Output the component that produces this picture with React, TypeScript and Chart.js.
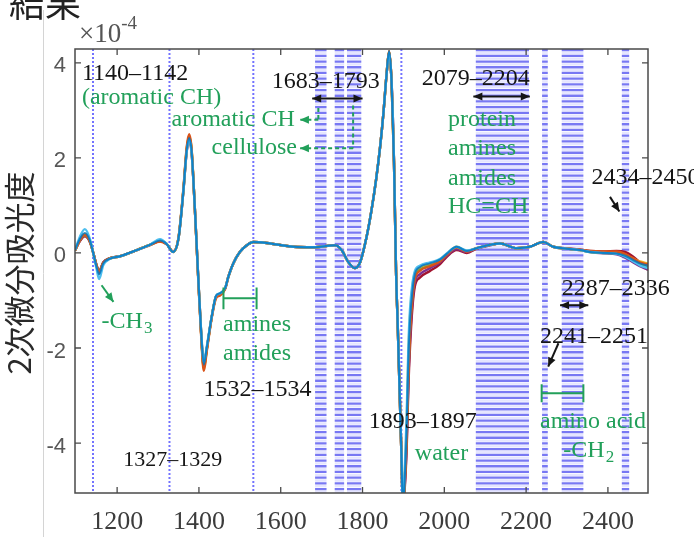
import React, { useEffect, useRef } from 'react';
import { Chart, registerables } from 'chart.js';

Chart.register(...registerables);

// ---- data ----
const wavenumbers = [
  1097, 1109, 1121, 1134, 1142, 1150, 1156, 1166, 1183, 1207,
  1248, 1280, 1305, 1321, 1337, 1350, 1362, 1370, 1376, 1382,
  1390, 1398, 1405, 1412, 1419, 1431, 1442, 1451, 1464, 1472,
  1484, 1500, 1517, 1533, 1566, 1631, 1680, 1733, 1749, 1765,
  1781, 1794, 1810, 1822, 1833, 1843, 1851, 1859, 1865, 1871,
  1877, 1882, 1886, 1891, 1895, 1899, 1903, 1908, 1912, 1916,
  1922, 1928, 1940, 1965, 1989, 2006, 2030, 2055, 2079, 2112,
  2136, 2177, 2209, 2242, 2266, 2299, 2332, 2356, 2389, 2421,
  2442, 2462, 2478, 2498,
];

const absorbanceBlue = [
  0.06, 0.3, 0.42, 0.25, -0.02, -0.3, -0.45, -0.22, -0.12, -0.07,
  0.06, 0.17, 0.26, 0.19, 0.02, 0.3, 1.3, 2.15, 2.42, 2.15,
  0.95, -0.45, -1.6, -2.35, -2.0, -1.35, -0.9, -0.85, -0.74, -0.5,
  -0.22, 0.02, 0.16, 0.23, 0.21, 0.13, 0.12, 0.16, 0.06, -0.19,
  -0.32, -0.2, 0.34, 0.9, 1.53, 2.23, 2.93, 3.78, 4.25, 3.6,
  1.9, -0.4, -1.5, -3.0, -4.2, -5.4, -4.8, -3.7, -2.3, -1.45,
  -0.8, -0.45, -0.3, -0.22, -0.14, -0.02, 0.13, 0.04, 0.1, 0.17,
  0.2, 0.1, 0.13, 0.23, 0.13, 0.09, 0.06, 0.02, 0.0, -0.01,
  -0.06, -0.15, -0.22, -0.27,
];
const absorbanceCyan = [
  0.06, 0.34, 0.5, 0.28, -0.02, -0.35, -0.55, -0.26, -0.12, -0.07,
  0.06, 0.17, 0.29, 0.19, 0.02, 0.3, 1.3, 2.12, 2.38, 2.12,
  0.95, -0.45, -1.58, -2.3, -1.98, -1.35, -0.9, -0.85, -0.74, -0.5,
  -0.22, 0.02, 0.16, 0.23, 0.21, 0.13, 0.12, 0.16, 0.06, -0.19,
  -0.32, -0.2, 0.34, 0.9, 1.53, 2.23, 2.93, 3.78, 4.22, 3.6,
  1.9, -0.4, -1.5, -3.0, -4.2, -5.4, -4.6, -3.4, -2.0, -1.2,
  -0.65, -0.38, -0.27, -0.2, -0.13, -0.01, 0.13, 0.05, 0.1, 0.17,
  0.2, 0.1, 0.13, 0.23, 0.13, 0.09, 0.06, 0.02, 0.0, -0.02,
  -0.08, -0.18, -0.26, -0.32,
];
const absorbanceOrange = [
  0.05, 0.27, 0.38, 0.23, -0.01, -0.28, -0.42, -0.21, -0.11, -0.07,
  0.06, 0.16, 0.24, 0.18, 0.03, 0.32, 1.35, 2.22, 2.5, 2.2,
  0.93, -0.5, -1.68, -2.48, -2.08, -1.38, -0.95, -0.9, -0.76, -0.5,
  -0.22, 0.02, 0.16, 0.23, 0.21, 0.13, 0.12, 0.16, 0.06, -0.19,
  -0.32, -0.2, 0.34, 0.9, 1.53, 2.23, 2.93, 3.78, 4.25, 3.6,
  1.9, -0.4, -1.5, -3.0, -4.2, -5.4, -4.9, -3.9, -2.6, -1.7,
  -0.95, -0.55, -0.38, -0.28, -0.18, -0.04, 0.12, 0.03, 0.1, 0.17,
  0.2, 0.1, 0.13, 0.23, 0.13, 0.09, 0.07, 0.04, 0.03, 0.03,
  -0.02, -0.12, -0.2, -0.24,
];
const absorbanceYellow = [
  0.05, 0.28, 0.4, 0.24, -0.02, -0.29, -0.44, -0.22, -0.12, -0.07,
  0.06, 0.17, 0.25, 0.19, 0.02, 0.31, 1.32, 2.18, 2.46, 2.18,
  0.94, -0.48, -1.64, -2.45, -2.05, -1.37, -0.92, -0.87, -0.75, -0.5,
  -0.22, 0.02, 0.16, 0.23, 0.21, 0.13, 0.12, 0.16, 0.06, -0.19,
  -0.32, -0.2, 0.34, 0.9, 1.53, 2.23, 2.93, 3.78, 4.24, 3.6,
  1.9, -0.4, -1.5, -3.0, -4.2, -5.4, -4.7, -3.6, -2.2, -1.35,
  -0.72, -0.42, -0.3, -0.22, -0.14, -0.02, 0.13, 0.04, 0.1, 0.17,
  0.2, 0.1, 0.13, 0.23, 0.13, 0.09, 0.06, 0.03, 0.01, 0.0,
  -0.04, -0.12, -0.18, -0.22,
];
const absorbancePurple = [
  0.05, 0.26, 0.36, 0.22, -0.01, -0.27, -0.4, -0.2, -0.11, -0.07,
  0.06, 0.17, 0.25, 0.19, 0.02, 0.3, 1.3, 2.14, 2.4, 2.14,
  0.94, -0.47, -1.62, -2.4, -2.03, -1.36, -0.91, -0.86, -0.75, -0.5,
  -0.22, 0.02, 0.16, 0.23, 0.21, 0.13, 0.12, 0.16, 0.06, -0.19,
  -0.32, -0.2, 0.34, 0.9, 1.53, 2.23, 2.93, 3.78, 4.23, 3.6,
  1.9, -0.4, -1.5, -3.0, -4.2, -5.4, -4.95, -4.0, -2.7, -1.85,
  -1.05, -0.62, -0.45, -0.32, -0.2, -0.06, 0.08, 0.02, 0.09, 0.16,
  0.2, 0.1, 0.13, 0.23, 0.13, 0.09, 0.06, 0.02, -0.01, -0.03,
  -0.1, -0.2, -0.28, -0.35,
];
const absorbanceGreen = [
  0.05, 0.27, 0.37, 0.23, -0.01, -0.28, -0.41, -0.21, -0.11, -0.07,
  0.06, 0.17, 0.25, 0.19, 0.02, 0.31, 1.32, 2.17, 2.44, 2.17,
  0.94, -0.47, -1.63, -2.42, -2.04, -1.36, -0.91, -0.86, -0.75, -0.5,
  -0.22, 0.02, 0.16, 0.23, 0.21, 0.13, 0.12, 0.16, 0.06, -0.19,
  -0.32, -0.2, 0.34, 0.9, 1.53, 2.23, 2.93, 3.78, 4.24, 3.6,
  1.9, -0.4, -1.5, -3.0, -4.2, -5.4, -4.85, -3.8, -2.5, -1.6,
  -0.9, -0.5, -0.35, -0.25, -0.16, -0.03, 0.12, 0.04, 0.1, 0.17,
  0.2, 0.1, 0.13, 0.23, 0.13, 0.09, 0.06, 0.02, 0.0, -0.01,
  -0.04, -0.14, -0.23, -0.3,
];
const absorbanceRed = [
  0.05, 0.25, 0.35, 0.22, -0.01, -0.26, -0.38, -0.2, -0.11, -0.07,
  0.06, 0.17, 0.25, 0.19, 0.02, 0.3, 1.3, 2.12, 2.36, 2.12,
  0.94, -0.46, -1.61, -2.38, -2.02, -1.36, -0.91, -0.86, -0.75, -0.5,
  -0.22, 0.02, 0.16, 0.23, 0.21, 0.13, 0.12, 0.16, 0.06, -0.19,
  -0.32, -0.2, 0.34, 0.9, 1.53, 2.23, 2.93, 3.78, 4.22, 3.6,
  1.9, -0.4, -1.5, -3.0, -4.2, -5.4, -5.0, -4.1, -2.85, -2.0,
  -1.15, -0.7, -0.52, -0.38, -0.24, -0.08, 0.06, 0.0, 0.09, 0.17,
  0.2, 0.1, 0.13, 0.23, 0.13, 0.1, 0.07, 0.04, 0.03, 0.04,
  0.02, -0.08, -0.2, -0.36,
];

const xTickValues = [1200, 1400, 1600, 1800, 2000, 2200, 2400];
const yTickValues = [-4, -2, 0, 2, 4];
const dottedWavenumbers = [1141, 1328, 1533, 1895];
const bandStarts = [1684, 1732, 1762, 2077, 2239, 2287, 2434];
const bandEnds = [1712, 1755, 1797, 2207, 2253, 2340, 2452];

// ---- annotation layout (data coordinates) ----
const GREEN = '#22a05a';
const BLACK = '#151515';
const SERIF = '"Liberation Serif", "Times New Roman", serif';
const SANS = '"Liberation Sans", Arial, sans-serif';
const CJK = '"Noto Sans CJK JP", "Noto Sans CJK SC", sans-serif';

type Label = { text: string; x: number; y: number; green?: boolean; size?: number; sub?: string };
const labels: Label[] = [
  { text: '1140–1142', x: 1114, y: 3.76 },
  { text: '(aromatic CH)', x: 1114, y: 3.27, green: true },
  { text: 'aromatic CH', x: 1333, y: 2.8, green: true },
  { text: 'cellulose', x: 1431, y: 2.21, green: true },
  { text: '1683–1793', x: 1578, y: 3.6 },
  { text: '2079–2204', x: 1945, y: 3.66 },
  { text: 'protein', x: 2009, y: 2.8, green: true },
  { text: 'amines', x: 2009, y: 2.2, green: true },
  { text: 'amides', x: 2009, y: 1.57, green: true },
  { text: 'HC=CH', x: 2009, y: 0.97, green: true },
  { text: '2434–2450', x: 2360, y: 1.58 },
  { text: '-CH', sub: '3', x: 1162, y: -1.45, green: true },
  { text: 'amines', x: 1459, y: -1.5, green: true },
  { text: 'amides', x: 1459, y: -2.11, green: true },
  { text: '1532–1534', x: 1411, y: -2.88 },
  { text: '1327–1329', x: 1215, y: -4.36, size: 22 },
  { text: '1893–1897', x: 1815, y: -3.55 },
  { text: 'water', x: 1928, y: -4.22, green: true },
  { text: '2287–2336', x: 2287, y: -0.75 },
  { text: '2241–2251', x: 2234, y: -1.76 },
  { text: 'amino acid', x: 2234, y: -3.55, green: true },
  { text: '-CH', sub: '2', x: 2291, y: -4.15, green: true },
];

type Arrow = { x1: number; y1: number; x2: number; y2: number; green?: boolean; both?: boolean; dashed?: boolean; noHead?: boolean };
const arrows: Arrow[] = [
  { x1: 1677, y1: 3.25, x2: 1800, y2: 3.25, both: true },
  { x1: 2071, y1: 3.29, x2: 2209, y2: 3.29, both: true },
  { x1: 2283, y1: -1.1, x2: 2352, y2: -1.1, both: true },
  { x1: 2405, y1: 1.18, x2: 2428, y2: 0.87 },
  { x1: 2279, y1: -1.9, x2: 2254, y2: -2.39 },
  { x1: 1162, y1: -0.68, x2: 1191, y2: -1.03, green: true },
  { x1: 1692, y1: 3.05, x2: 1692, y2: 2.8, green: true, dashed: true, noHead: true },
  { x1: 1692, y1: 2.8, x2: 1647, y2: 2.8, green: true, dashed: true },
  { x1: 1777, y1: 3.1, x2: 1777, y2: 2.2, green: true, dashed: true, noHead: true },
  { x1: 1777, y1: 2.2, x2: 1647, y2: 2.2, green: true, dashed: true },
];

type Bracket = { x1: number; x2: number; y: number; cap: number };
const brackets: Bracket[] = [
  { x1: 1460, x2: 1541, y: -0.955, cap: 0.23 },
  { x1: 2238, x2: 2340, y: -2.95, cap: 0.19 },
];

function head(ctx: CanvasRenderingContext2D, fx: number, fy: number, tx: number, ty: number, len = 9, half = 4) {
  const a = Math.atan2(ty - fy, tx - fx);
  ctx.beginPath();
  ctx.moveTo(tx, ty);
  ctx.lineTo(tx - len * Math.cos(a) + half * Math.sin(a), ty - len * Math.sin(a) - half * Math.cos(a));
  ctx.lineTo(tx - len * Math.cos(a) - half * Math.sin(a), ty - len * Math.sin(a) + half * Math.cos(a));
  ctx.closePath();
  ctx.fill();
}

const decorPlugin = {
  id: 'decor',
  beforeDatasetsDraw(chart: any) {
    const { ctx, chartArea: a, scales } = chart;
    const xs = scales.x;
    ctx.save();
    ctx.beginPath();
    ctx.rect(a.left, a.top, a.right - a.left, a.bottom - a.top);
    ctx.clip();
    bandStarts.forEach((s, i) => {
      const x1 = xs.getPixelForValue(s);
      const x2 = xs.getPixelForValue(bandEnds[i]);
      const cx = (x1 + x2) / 2;
      ctx.lineWidth = x2 - x1;
      ctx.lineCap = 'butt';
      ctx.setLineDash([2.3, 3.4]);
      ctx.lineDashOffset = 2.85;
      ctx.strokeStyle = 'rgba(170,170,255,0.3)';
      ctx.beginPath();
      ctx.moveTo(cx, a.top);
      ctx.lineTo(cx, a.bottom);
      ctx.stroke();
      ctx.lineDashOffset = 0;
      ctx.strokeStyle = 'rgba(82,82,240,0.78)';
      ctx.beginPath();
      ctx.moveTo(cx, a.top);
      ctx.lineTo(cx, a.bottom);
      ctx.stroke();
    });
    ctx.setLineDash([2, 2]);
    ctx.lineDashOffset = 0;
    ctx.lineWidth = 2;
    ctx.strokeStyle = 'rgba(90,90,255,0.85)';
    dottedWavenumbers.forEach((w) => {
      const x = xs.getPixelForValue(w);
      ctx.beginPath();
      ctx.moveTo(x, a.top);
      ctx.lineTo(x, a.bottom);
      ctx.stroke();
    });
    ctx.restore();
  },
  afterDatasetsDraw(chart: any) {
    const { ctx, chartArea: a, scales } = chart;
    const xs = scales.x;
    const ys = scales.y;
    ctx.save();
    // box
    ctx.setLineDash([]);
    ctx.strokeStyle = '#4a4a4a';
    ctx.lineWidth = 1.5;
    ctx.strokeRect(a.left, a.top, a.right - a.left, a.bottom - a.top);
    // inward ticks
    ctx.lineWidth = 1.3;
    xTickValues.forEach((v) => {
      const x = xs.getPixelForValue(v);
      ctx.beginPath();
      ctx.moveTo(x, a.bottom);
      ctx.lineTo(x, a.bottom - 6);
      ctx.moveTo(x, a.top);
      ctx.lineTo(x, a.top + 6);
      ctx.stroke();
    });
    yTickValues.forEach((v) => {
      const y = ys.getPixelForValue(v);
      ctx.beginPath();
      ctx.moveTo(a.left, y);
      ctx.lineTo(a.left + 6, y);
      ctx.moveTo(a.right, y);
      ctx.lineTo(a.right - 6, y);
      ctx.stroke();
    });
    // tick labels
    ctx.fillStyle = '#3c3c3c';
    ctx.font = `26px ${SERIF}`;
    ctx.textAlign = 'center';
    ctx.textBaseline = 'middle';
    xTickValues.forEach((v) => ctx.fillText(String(v), xs.getPixelForValue(v), 522));
    ctx.fillStyle = '#575757';
    ctx.font = `22px ${SANS}`;
    ctx.textAlign = 'right';
    yTickValues.forEach((v) => ctx.fillText(String(v), 66, ys.getPixelForValue(v) + 3.5));
    // exponent
    ctx.textAlign = 'left';
    ctx.textBaseline = 'alphabetic';
    ctx.fillStyle = '#555';
    ctx.font = `27px ${SERIF}`;
    ctx.fillText('×10', 79, 42);
    const w10 = ctx.measureText('×10').width;
    ctx.font = `19px ${SERIF}`;
    ctx.fillText('-4', 79 + w10, 29);
    // y label
    ctx.save();
    ctx.translate(19, 273);
    ctx.rotate(-Math.PI / 2);
    ctx.textAlign = 'center';
    ctx.textBaseline = 'middle';
    ctx.fillStyle = '#2a2a2a';
    ctx.font = `31px ${CJK}`;
    ctx.fillText('2次微分吸光度', 0, 0);
    ctx.restore();
    // title (clipped at top)
    ctx.fillStyle = '#222';
    ctx.font = `36px ${CJK}`;
    ctx.textAlign = 'left';
    ctx.textBaseline = 'alphabetic';
    ctx.fillText('結果', 9, 17);
    // thin separator line
    ctx.strokeStyle = '#d4d4d4';
    ctx.lineWidth = 1;
    ctx.beginPath();
    ctx.moveTo(43.5, 10);
    ctx.lineTo(43.5, 537);
    ctx.stroke();

    // brackets
    ctx.strokeStyle = GREEN;
    ctx.lineWidth = 2;
    brackets.forEach((b) => {
      const x1 = xs.getPixelForValue(b.x1);
      const x2 = xs.getPixelForValue(b.x2);
      const y = ys.getPixelForValue(b.y);
      const yt = ys.getPixelForValue(b.y + b.cap);
      const yb = ys.getPixelForValue(b.y - b.cap);
      ctx.beginPath();
      ctx.moveTo(x1, y);
      ctx.lineTo(x2, y);
      ctx.moveTo(x1, yt);
      ctx.lineTo(x1, yb);
      ctx.moveTo(x2, yt);
      ctx.lineTo(x2, yb);
      ctx.stroke();
    });
    // arrows
    arrows.forEach((r) => {
      const col = r.green ? GREEN : BLACK;
      ctx.strokeStyle = col;
      ctx.fillStyle = col;
      ctx.lineWidth = 2;
      ctx.setLineDash(r.dashed ? [4, 3] : []);
      const x1 = xs.getPixelForValue(r.x1);
      const y1 = ys.getPixelForValue(r.y1);
      const x2 = xs.getPixelForValue(r.x2);
      const y2 = ys.getPixelForValue(r.y2);
      ctx.beginPath();
      ctx.moveTo(x1, y1);
      ctx.lineTo(x2, y2);
      ctx.stroke();
      ctx.setLineDash([]);
      if (!r.noHead) head(ctx, x1, y1, x2, y2);
      if (r.both) head(ctx, x2, y2, x1, y1);
    });
    // labels
    ctx.textAlign = 'left';
    ctx.textBaseline = 'middle';
    labels.forEach((l) => {
      const size = l.size ?? 24;
      const x = xs.getPixelForValue(l.x);
      const y = ys.getPixelForValue(l.y);
      ctx.fillStyle = l.green ? GREEN : BLACK;
      ctx.font = `${size}px ${SERIF}`;
      ctx.fillText(l.text, x, y);
      if (l.sub) {
        const w = ctx.measureText(l.text).width;
        ctx.font = `${Math.round(size * 0.72)}px ${SERIF}`;
        ctx.fillText(l.sub, x + w + 1, y + 7);
      }
    });
    ctx.restore();
  },
};

// Chart.js paints dataset 0 last (on top): blue first, red at the bottom.
const seriesList = [
  { values: absorbanceBlue, color: 'rgba(0,114,189,0.8)', width: 2 },
  { values: absorbanceCyan, color: '#4DBEEE', width: 2.4 },
  { values: absorbanceOrange, color: '#D95319', width: 2.4 },
  { values: absorbanceYellow, color: '#EDB120', width: 2.4 },
  { values: absorbanceGreen, color: '#77AC30', width: 2.4 },
  { values: absorbancePurple, color: '#7E2F8E', width: 2.4 },
  { values: absorbanceRed, color: '#A2142F', width: 2.4 },
];

export default function App() {
  const ref = useRef<HTMLCanvasElement>(null);
  useEffect(() => {
    const canvas = ref.current;
    if (!canvas) return;
    const chart = new Chart(canvas, {
      type: 'line',
      data: {
        datasets: seriesList.map((s) => ({
          data: wavenumbers.map((w, i) => ({ x: w, y: s.values[i] })),
          borderColor: s.color,
          borderWidth: s.width,
          pointRadius: 0,
          fill: false,
          cubicInterpolationMode: 'monotone' as const,
        })),
      },
      options: {
        responsive: false,
        devicePixelRatio: 1,
        animation: false,
        events: [],
        layout: { padding: { left: 75, top: 49, right: 46, bottom: 44 } },
        plugins: { legend: { display: false }, tooltip: { enabled: false } },
        scales: {
          x: { type: 'linear', min: 1097, max: 2498, display: false },
          y: { type: 'linear', min: -5.05, max: 4.29, display: false },
        },
      },
      plugins: [decorPlugin],
    });
    return () => chart.destroy();
  }, []);
  return (
    <canvas
      ref={ref}
      width={694}
      height={537}
      style={{ position: 'absolute', left: 0, top: 0, width: 694, height: 537, background: '#fff' }}
    />
  );
}
